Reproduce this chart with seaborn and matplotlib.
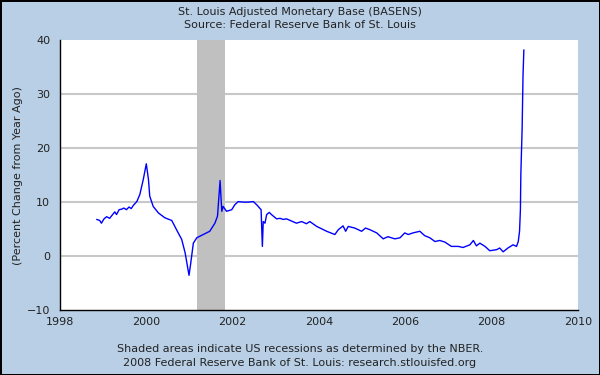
import matplotlib
matplotlib.use('Agg')
import matplotlib.pyplot as plt
import seaborn as sns
import pandas as pd

# Dados (ano decimal, variação % anual)
anos = [1998.85, 1998.92, 1998.96, 1999.02, 1999.08, 1999.15, 1999.20, 1999.27, 1999.31, 1999.37,
        1999.43, 1999.48, 1999.54, 1999.60, 1999.65, 1999.70, 1999.78, 1999.85, 1999.93, 2000.00,
        2000.05, 2000.08, 2000.16, 2000.28, 2000.43, 2000.59, 2000.70, 2000.82, 2000.90, 2000.99,
        2001.03, 2001.09, 2001.17, 2001.32, 2001.47, 2001.59, 2001.65, 2001.71, 2001.73, 2001.75,
        2001.78, 2001.86, 2001.98, 2002.05, 2002.13, 2002.25, 2002.36, 2002.48, 2002.56, 2002.66,
        2002.69, 2002.71, 2002.75, 2002.79, 2002.85, 2002.90, 2003.02, 2003.10, 2003.17, 2003.25,
        2003.48, 2003.60, 2003.71, 2003.79, 2003.95, 2004.18, 2004.37, 2004.45, 2004.56, 2004.62,
        2004.68, 2004.83, 2004.99, 2005.08, 2005.18, 2005.34, 2005.49, 2005.60, 2005.76, 2005.88,
        2005.99, 2006.07, 2006.18, 2006.34, 2006.45, 2006.57, 2006.69, 2006.80, 2006.92, 2007.07,
        2007.23, 2007.34, 2007.50, 2007.58, 2007.65, 2007.73, 2007.85, 2007.96, 2008.12, 2008.19,
        2008.27, 2008.38, 2008.50, 2008.58, 2008.62, 2008.65, 2008.67, 2008.68, 2008.71, 2008.73,
        2008.75]
variacao = [6.8, 6.6, 6.1, 6.9, 7.3, 7.0, 7.5, 8.2, 7.7, 8.6,
            8.7, 8.9, 8.6, 9.1, 8.8, 9.4, 10.1, 11.4, 14.2, 17.1,
            14.2, 11.1, 9.2, 8.0, 7.1, 6.6, 4.9, 3.1, 0.6, -3.55,
            -1.3, 2.4, 3.4, 4.0, 4.6, 6.1, 7.4, 14.0, 11.0, 8.3,
            9.2, 8.3, 8.6, 9.5, 10.1, 10.0, 10.0, 10.1, 9.5, 8.6,
            1.8, 6.4, 6.1, 7.7, 8.1, 7.7, 6.9, 7.0, 6.8, 6.9,
            6.1, 6.4, 6.0, 6.4, 5.5, 4.6, 4.0, 4.9, 5.6, 4.6,
            5.5, 5.2, 4.6, 5.2, 4.9, 4.3, 3.2, 3.6, 3.2, 3.4,
            4.3, 4.0, 4.3, 4.6, 3.8, 3.4, 2.7, 2.9, 2.6, 1.8,
            1.8, 1.6, 2.1, 2.9, 1.9, 2.4, 1.8, 1.0, 1.2, 1.5,
            0.8, 1.5, 2.1, 1.8, 2.7, 4.6, 8.6, 15.1, 23.7, 33.3,
            38.2]
recessao = (2001.17, 2001.83)
ticks_x = [1998, 2000, 2002, 2004, 2006, 2008, 2010]
ticks_y = [-10, 0, 10, 20, 30, 40]

df = pd.DataFrame({'ano': anos, 'variacao': variacao})

sns.set_style('white')
plt.rcParams['font.family'] = ['DejaVu Sans']

fundo = '#B8CFE6'
fig = plt.figure(figsize=(6, 3.75), dpi=100, facecolor=fundo, edgecolor='black', linewidth=1)
ax = fig.add_axes([0.1, 0.173, 0.863, 0.72])
ax.set_facecolor('white')

# faixa de recessão
ax.axvspan(recessao[0], recessao[1], color='#C0C0C0', lw=0, zorder=1)

for v in ticks_y[1:-1]:
    ax.axhline(v, color='#C8C8C8', lw=1.5, zorder=0.5)

sns.lineplot(data=df, x='ano', y='variacao', color='#0000FF', lw=1, estimator=None, sort=False, ax=ax, zorder=3)

ax.set_xlim(1998, 2010)
ax.set_ylim(-10, 40)
ax.set_xticks(ticks_x)
ax.set_yticks(ticks_y)
ax.set_xlabel('')
ax.set_ylabel('(Percent Change from Year Ago)', fontsize=8, color='#222222', labelpad=3)

for s in ['top', 'right']:
    ax.spines[s].set_visible(False)
for s in ['left', 'bottom']:
    ax.spines[s].set_color('black')
    ax.spines[s].set_linewidth(1)

ax.tick_params(axis='y', direction='out', length=5, width=1, labelsize=8, colors='black', pad=2)
ax.tick_params(axis='x', direction='in', length=5, width=1, labelsize=8, colors='black', pad=5)
for lbl in ax.get_xticklabels() + ax.get_yticklabels():
    lbl.set_color('#222222')

# textos
fig.text(0.5, 0.968, 'St. Louis Adjusted Monetary Base (BASENS)', ha='center', va='center', fontsize=8, color='#222222')
fig.text(0.5, 0.933, 'Source: Federal Reserve Bank of St. Louis', ha='center', va='center', fontsize=8, color='#222222')
fig.text(0.5, 0.069, 'Shaded areas indicate US recessions as determined by the NBER.', ha='center', va='center', fontsize=8, color='#222222')
fig.text(0.5, 0.032, '2008 Federal Reserve Bank of St. Louis: research.stlouisfed.org', ha='center', va='center', fontsize=8, color='#222222')

fig.savefig('out.png', dpi=100, facecolor=fundo, edgecolor='black')
